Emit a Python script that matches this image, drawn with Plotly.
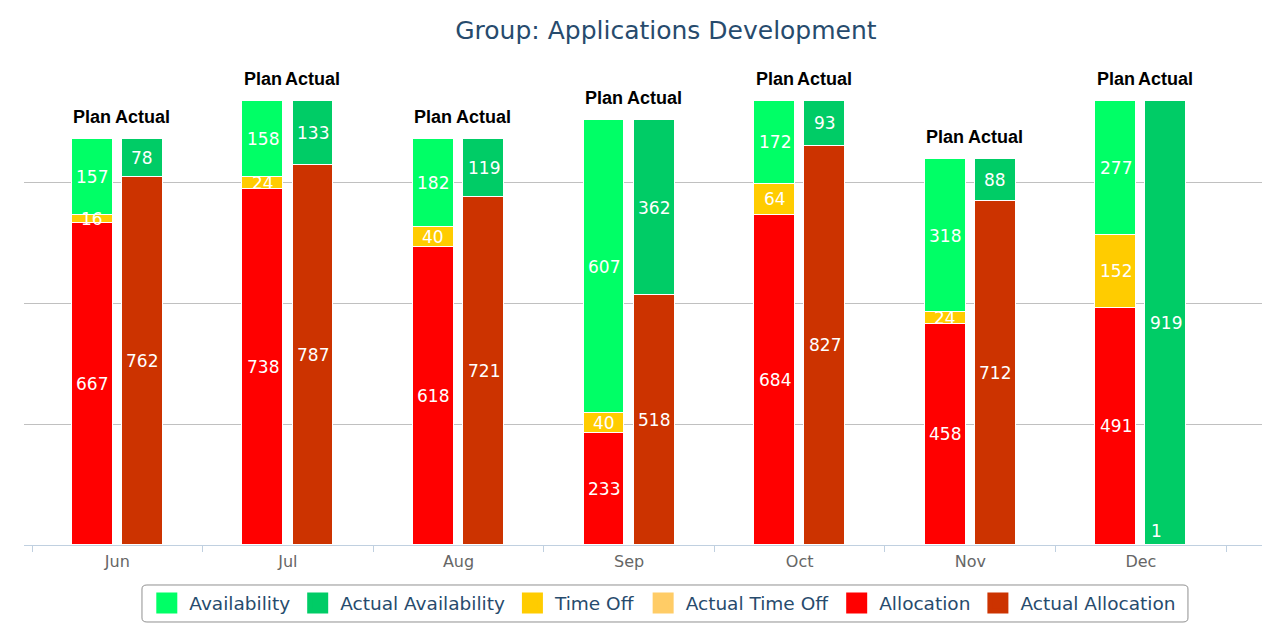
import plotly.graph_objects as go

months = ["Jun", "Jul", "Aug", "Sep", "Oct", "Nov", "Dec"]
allocation = [667, 738, 618, 233, 684, 458, 491]
time_off = [16, 24, 40, 40, 64, 24, 152]
availability = [157, 158, 182, 607, 172, 318, 277]
actual_allocation = [762, 787, 721, 518, 827, 712, 1]
actual_time_off = [0, 0, 0, 0, 0, 0, 0]
actual_availability = [78, 133, 119, 362, 93, 88, 919]

OFF = 0.147
W = 0.24
plan_x = [i - OFF for i in range(len(months))]
act_x = [i + OFF for i in range(len(months))]

LABEL_FONT = dict(family="DejaVu Sans", size=17, color="white")
STACK_FONT = dict(family="Liberation Sans", size=18, color="black", weight="bold")

fig = go.Figure()

plan_series = [
    ("Allocation", allocation, "#ff0000", 5),
    ("Time Off", time_off, "#ffcc00", 3),
    ("Availability", availability, "#00ff66", 1),
]
act_series = [
    ("Actual Allocation", actual_allocation, "#cc3300", 6),
    ("Actual Time Off", actual_time_off, "#ffcc66", 4),
    ("Actual Availability", actual_availability, "#00cc66", 2),
]

annotations = []
for xs, group in ((plan_x, plan_series), (act_x, act_series)):
    base = [0] * len(months)
    for name, vals, color, rank in group:
        fig.add_trace(go.Bar(
            name=name, x=xs, y=vals, width=W, showlegend=False,
            marker=dict(color=color, line=dict(color="white", width=1)),
            hoverinfo="name+y",
        ))
        # legend entry with a larger square symbol
        fig.add_trace(go.Scatter(
            name=name, x=[None], y=[None], mode="markers",
            marker=dict(symbol="square", size=16, color=color, line=dict(color=color, width=5)),
            legendrank=rank, showlegend=True, hoverinfo="skip",
        ))
        for i, v in enumerate(vals):
            if v <= 0:
                pass
            elif v < 2:
                annotations.append(dict(x=xs[i], y=base[i], text=str(v), showarrow=False,
                                        yanchor="bottom", yshift=2, xshift=-9, font=LABEL_FONT))
            else:
                annotations.append(dict(x=xs[i], y=base[i] + v / 2, text=str(v), showarrow=False,
                                        yanchor="middle", font=LABEL_FONT))
            base[i] += v
    for i in range(len(months)):
        annotations.append(dict(x=xs[i], y=base[i], text="Plan" if xs is plan_x else "Actual",
                                showarrow=False, yanchor="bottom", yshift=10, font=STACK_FONT))

fig.update_layout(
    barmode="stack",
    width=1280, height=640,
    margin=dict(l=16, r=26, t=54, b=103),
    paper_bgcolor="white", plot_bgcolor="white",
    title=dict(text="Group: Applications Development", x=0.514, xanchor="center",
               y=0.9656, yanchor="middle", xref="container", yref="container",
               font=dict(family="DejaVu Sans", size=25, color="#274b6d")),
    showlegend=True,
    legend=dict(orientation="h", x=0.516, xanchor="center", y=-0.121, yanchor="middle",
                borderwidth=0, bgcolor="rgba(0,0,0,0)",
                font=dict(family="DejaVu Sans", size=18.5, color="#274b6d"),
                itemsizing="trace", traceorder="normal", itemwidth=35),
    annotations=annotations,
    shapes=[dict(type="path", xref="paper", yref="paper",
                 path="M 0.0993,-0.0828 L 0.9362,-0.0828 Q 0.9402,-0.0828 0.9402,-0.0911 "
                      "L 0.9402,-0.1511 Q 0.9402,-0.1594 0.9362,-0.1594 L 0.0993,-0.1594 "
                      "Q 0.0953,-0.1594 0.0953,-0.1511 L 0.0953,-0.0911 Q 0.0953,-0.0828 0.0993,-0.0828 Z",
                 line=dict(color="#909090", width=1), fillcolor="rgba(0,0,0,0)", layer="below")],
    bargap=0,
)

fig.update_xaxes(
    range=[-0.547, 6.71],
    tickmode="array", tickvals=list(range(len(months))), ticktext=months,
    ticks="", showgrid=False, zeroline=False,
    showline=True, linecolor="#C0D0E0", linewidth=1,
    tickfont=dict(family="DejaVu Sans", size=16, color="#666666"),
    ticklabelstandoff=2,
    minor=dict(tickmode="array", tickvals=[i - 0.5 for i in range(len(months) + 1)],
               ticks="outside", ticklen=6, tickcolor="#C0D0E0", tickwidth=1, showgrid=False),
)
fig.update_yaxes(
    range=[0, 1000.5], tickmode="array", tickvals=[250, 500, 750, 1000],
    showticklabels=False, ticks="", showgrid=True, gridcolor="#C0C0C0", gridwidth=1,
    zeroline=False, showline=False,
)

fig.write_html("out.html")
